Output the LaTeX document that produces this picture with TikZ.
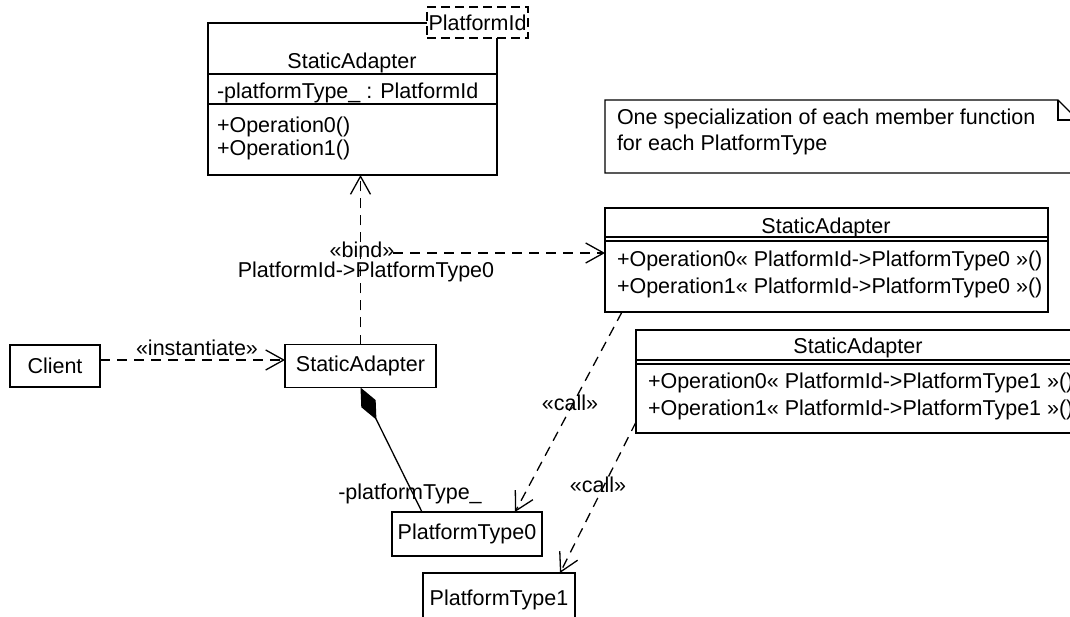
\documentclass[tikz,border=0pt]{standalone}
\usepackage{fontspec}
\setmainfont{Liberation Sans}
\usetikzlibrary{arrows.meta,calc}
\begin{document}
\begin{tikzpicture}[x=1pt,y=-1pt, line width=1.3pt,
  every node/.style={font=\fontsize{21.5}{25}\selectfont, inner sep=0pt, outer sep=0pt},
  box/.style={draw, anchor=north west},
  cbox/.style={draw},
  dep/.style={dash pattern=on 10pt off 7pt, -{Straight Barb[length=18pt,width=20pt,line width=1.3pt]}},
  compo/.style={{Diamond[length=36pt,width=16pt]}-},
  parbox/.style={draw, dash pattern=on 9pt off 5pt, fill=white, anchor=north west},
]
\useasboundingbox (0,0) rectangle (1070,617);
\clip (0,0) rectangle (1070,617);

% template class
\node[box, minimum width=289, minimum height=152] (tpl) at (208,23) {};
\node[parbox, minimum width=101, minimum height=31] (par) at (427,7) {PlatformId};
\draw ($(tpl.north west)+(0,51)$) -- ($(tpl.north east)+(0,51)$);
\draw ($(tpl.north west)+(0,81)$) -- ($(tpl.north east)+(0,81)$);
\node (tpltitle) at (352,63) {StaticAdapter};
\node[anchor=west] (tplattr) at (217,93) {-platformType\_ : PlatformId};
\node[anchor=west] (tplop0) at (217,127) {+Operation0()};
\node[anchor=west] (tplop1) at (217,150) {+Operation1()};

% note
\draw (605,100) -- (1058,100) -- (1078,120) -- (1078,173) -- (605,173) -- cycle;
\draw (1058,100) -- (1058,120) -- (1078,120);
\node[anchor=west] (note1) at (617,119) {One specialization of each member function};
\node[anchor=west] (note2) at (617,145) {for each PlatformType};

% bound class 0
\node[box, minimum width=443, minimum height=104] (sa0) at (605,208) {};
\draw ($(sa0.north west)+(0,29)$) -- ($(sa0.north east)+(0,29)$);
\draw ($(sa0.north west)+(0,33)$) -- ($(sa0.north east)+(0,33)$);
\node (sa0title) at (826,228) {StaticAdapter};
\node[anchor=west] (sa0op0) at (617,261) {+Operation0« PlatformId->PlatformType0 »()};
\node[anchor=west] (sa0op1) at (617,288) {+Operation1« PlatformId->PlatformType0 »()};

% bound class 1
\node[box, minimum width=446, minimum height=103] (sa1) at (636,330) {};
\draw ($(sa1.north west)+(0,30)$) -- ($(sa1.north east)+(0,30)$);
\draw ($(sa1.north west)+(0,34)$) -- ($(sa1.north east)+(0,34)$);
\node (sa1title) at (858,348) {StaticAdapter};
\node[anchor=west] (sa1op0) at (648,383) {+Operation0« PlatformId->PlatformType1 »()};
\node[anchor=west] (sa1op1) at (648,410) {+Operation1« PlatformId->PlatformType1 »()};

% simple classes
\node[cbox, minimum width=90, minimum height=42] (client) at (55,366) {Client};
\node[cbox, minimum width=151, minimum height=43] (sa) at (360.5,366) {StaticAdapter};
\node[cbox, minimum width=150, minimum height=44] (pt0) at (467,534) {PlatformType0};
\node[cbox, minimum width=152, minimum height=54] (pt1) at (499,600) {PlatformType1};

% connectors
\draw[dep] ([yshift=6pt]client.east) -- ([yshift=6pt]sa.west);
\node (instlbl) at (197,348) {«instantiate»};

\draw[dep] (sa.north) -- (sa.north |- tpl.south);
\coordinate (bindstart) at (393,253);
\draw[dep] (bindstart) -- (bindstart -| sa0.west);
\node (bindlbl) at (362,250) {«bind»};
\node (bindarg) at (366,272) {PlatformId->PlatformType0};

\draw[compo] (sa.south) -- ([xshift=30pt]pt0.north west);
\node (rolelbl) at (410,494) {-platformType\_};

\draw[dep] ([xshift=17pt]sa0.south west) -- ([xshift=123pt]pt0.north west);
\node (call0) at (570,403) {«call»};
\draw[dep] ([yshift=11pt]sa1.south west) -- ([xshift=137pt]pt1.north west);
\node (call1) at (598,485) {«call»};
\end{tikzpicture}
\end{document}
